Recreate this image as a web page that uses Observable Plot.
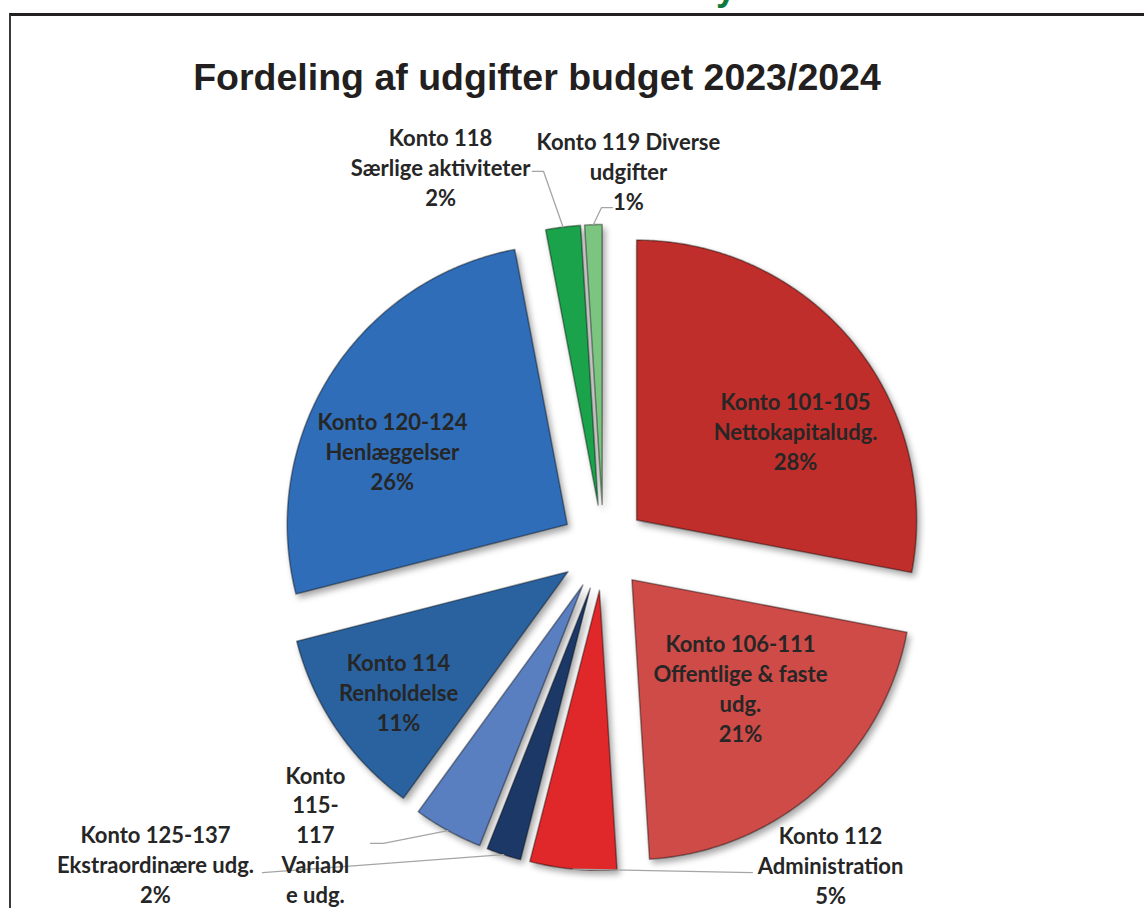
<!DOCTYPE html>
<html>
<head>
<meta charset="utf-8">
<script src="https://cdn.jsdelivr.net/npm/d3@7"></script>
<script src="https://cdn.jsdelivr.net/npm/@observablehq/plot@0.6"></script>
<style>
  body { margin: 0; background: #fff; }
  #page { position: relative; width: 1144px; height: 908px; overflow: hidden; background: #fff; }
  #frame { position: absolute; left: 9px; top: 13px; width: 1200px; height: 1000px;
           border-top: 3px solid #231f20; border-left: 2px solid #3a3a3a; box-sizing: border-box; }
  #topword { position: absolute; left: 716px; top: -33px; line-height: 36px;
             font: bold 36px "Liberation Sans", Arial, sans-serif; color: #0f7a3c; }
  #title { position: absolute; left: 0; top: 56px; width: 1074px; text-align: center; line-height: 44px;
           font: bold 37.5px "Liberation Sans", Arial, sans-serif; color: #231f20; }
  #chart { position: absolute; left: 0; top: 100px; }
</style>
</head>
<body>
<div id="page">
  <div id="topword">y</div>
  <div id="frame"></div>
  <div id="title">Fordeling af udgifter budget 2023/2024</div>
  <div id="chart"></div>
</div>
<script>
// ---- data (clockwise from 12 o'clock) ----
const accounts = ["Konto 101-105", "Konto 106-111", "Konto 112", "Konto 125-137", "Konto 115-117",
                  "Konto 114", "Konto 120-124", "Konto 118", "Konto 119"];
const descriptions = ["Nettokapitaludg.", "Offentlige & faste udg.", "Administration", "Ekstraordinære udg.",
                      "Variable udg.", "Renholdelse", "Henlæggelser", "Særlige aktiviteter", "Diverse udgifter"];
const labelText = [
  "Konto 101-105\nNettokapitaludg.",
  "Konto 106-111\nOffentlige & faste\nudg.",
  "Konto 112\nAdministration",
  "Konto 125-137\nEkstraordinære udg.",
  "Konto\n115-\n117\nVariabl\ne udg.",
  "Konto 114\nRenholdelse",
  "Konto 120-124\nHenlæggelser",
  "Konto 118\nSærlige aktiviteter",
  "Konto 119 Diverse\nudgifter"
];
const shares = [28, 21, 5, 2, 4, 11, 26, 2, 1];
const sliceColors = ["#bf2e2a", "#cf4b47", "#e0282a", "#1c3866", "#5a7fc1",
                     "#2a62a0", "#2f6db8", "#1aa34a", "#7cc580"];

// ---- layout (pie units: radius = 1, y up) ----
const W = 1144, H = 808, R = 280, cx = 603, cy = 447;
const explode = 43 / R;
// label placement (label centre) and leader start points for labels placed outside
const labelLayout = {
  0: {label: [0.686, 0.418]},
  1: {label: [0.489, -0.500]},
  2: {label: [0.811, -1.133], leader: [[0.532, -1.161]]},
  3: {label: [-1.600, -1.127], leader: [[-1.218, -1.161]]},
  4: {label: [-1.029, -1.076], leader: [[-0.832, -1.057], [-0.786, -1.057]]},
  5: {label: [-0.732, -0.514]},
  6: {label: [-0.754, 0.346]},
  7: {label: [-0.582, 1.361], leader: [[-0.254, 1.343], [-0.214, 1.343]]},
  8: {label: [0.089, 1.346], leader: [[0.032, 1.214], [-0.007, 1.214]]}
};

const arcs = d3.pie().sort(null).value(d => d)(shares);

const slicePts = [];
const labels = [];
const leaders = [];
arcs.forEach((a, i) => {
  const mid = (a.startAngle + a.endAngle) / 2;
  const ox = explode * Math.sin(mid), oy = explode * Math.cos(mid);
  slicePts.push({k: accounts[i], x: ox, y: oy});
  const n = Math.max(2, Math.ceil((a.endAngle - a.startAngle) / 0.01));
  for (let j = 0; j <= n; j++) {
    const t = a.startAngle + (a.endAngle - a.startAngle) * j / n;
    slicePts.push({k: accounts[i], x: ox + Math.sin(t), y: oy + Math.cos(t)});
  }
  slicePts.push({k: accounts[i], x: ox, y: oy});

  const text = labelText[i] + "\n" + shares[i] + "%";
  const lay = labelLayout[i];
  labels.push({x: lay.label[0], y: lay.label[1], text});
  if (lay.leader) {
    lay.leader.forEach(p => leaders.push({k: i, x: p[0], y: p[1]}));
    leaders.push({k: i, x: ox + Math.sin(mid), y: oy + Math.cos(mid)});
  }
});

const chart = Plot.plot({
  width: W, height: H,
  margin: 0,
  x: {domain: [-cx / R, (W - cx) / R], range: [0, W], axis: null},
  y: {domain: [-(H - cy) / R, cy / R], range: [H, 0], axis: null},
  color: {domain: accounts, range: sliceColors},
  style: {background: "transparent", overflow: "visible"},
  marks: [
    Plot.line(slicePts, {x: "x", y: "y", z: "k", fill: "k", stroke: "rgba(0,0,0,0.38)",
                         strokeWidth: 1.6, strokeLinejoin: "round", curve: "linear"}),
    Plot.line(leaders, {x: "x", y: "y", z: "k", stroke: "#a5a5a5", strokeWidth: 1.3, curve: "linear"}),
    Plot.text(labels, {x: "x", y: "y", text: "text", fontSize: 22, fontWeight: "bold",
                       fontFamily: "Lato, 'Open Sans', sans-serif", fill: "#262626",
                       lineHeight: 1.36, lineAnchor: "middle"})
  ]
});
document.getElementById("chart").appendChild(chart);
const g = chart.querySelector('g[aria-label="line"]');
if (g) g.style.filter = "drop-shadow(3px 4px 3px rgba(0,0,0,0.35))";
</script>
</body>
</html>
